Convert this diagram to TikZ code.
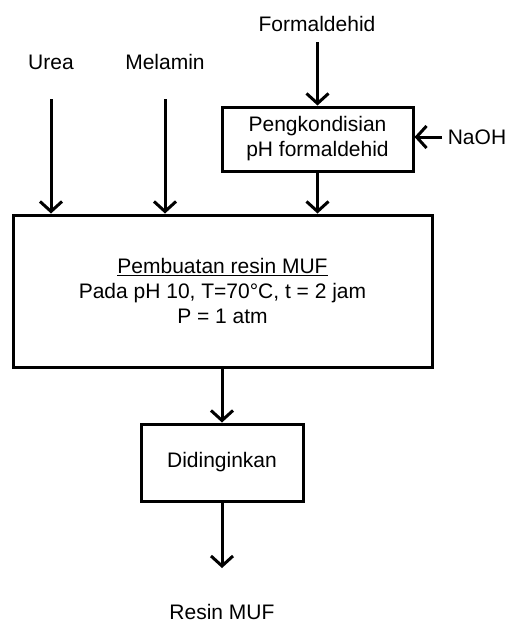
\documentclass[tikz,border=0pt]{standalone}
\usepackage{fontspec}
\setmainfont{Liberation Sans}
\usetikzlibrary{arrows.meta}
\tikzset{
  procbox/.style={draw, line width=3pt, rectangle, align=center, inner sep=0pt},
  lbl/.style={inner sep=0pt, align=center},
  flow/.style={line width=3pt, -{Straight Barb[length=10pt, width=22pt, line width=3pt]}}
}
\begin{document}
\begin{tikzpicture}[x=1pt, y=-1pt, font=\fontsize{21}{25}\selectfont]
\useasboundingbox (0,0) rectangle (510,624);
% labels
\node[lbl] (form) at (317,24) {Formaldehid};
\node[lbl] (urea) at (51,62) {Urea};
\node[lbl] (mel) at (165,62) {Melamin};
\node[lbl] (naoh) at (477,137) {NaOH};
\node[lbl] (resin) at (222,612) {Resin MUF};
% boxes
\node[procbox, minimum width=191pt, minimum height=64pt] (pk) at (317.5,139) {Pengkondisian\\pH formaldehid};
\node[procbox, minimum width=419pt, minimum height=152pt] (big) at (222.5,291)
  {\underline{Pembuatan resin MUF}\\Pada pH 10, T=70°C, t = 2 jam\\P = 1 atm};
\node[procbox, minimum width=162pt, minimum height=77pt] (did) at (222,462.5) {Didinginkan};
% free ends
\coordinate (u0) at (51,99);
\coordinate (m0) at (165,99);
\coordinate (f0) at (317.5,42);
\coordinate (n0) at (442,137);
\coordinate (r0) at (222,568);
% connectors
\draw[flow] (u0) -- (u0 |- big.north);
\draw[flow] (m0) -- (m0 |- big.north);
\draw[flow] (f0) -- (pk.north);
\draw[flow] (n0) -- (n0 -| pk.east);
\draw[flow] (pk.south) -- (pk.south |- big.north);
\draw[flow] (did.north |- big.south) -- (did.north);
\draw[flow] (did.south) -- (r0);
\end{tikzpicture}
\end{document}
